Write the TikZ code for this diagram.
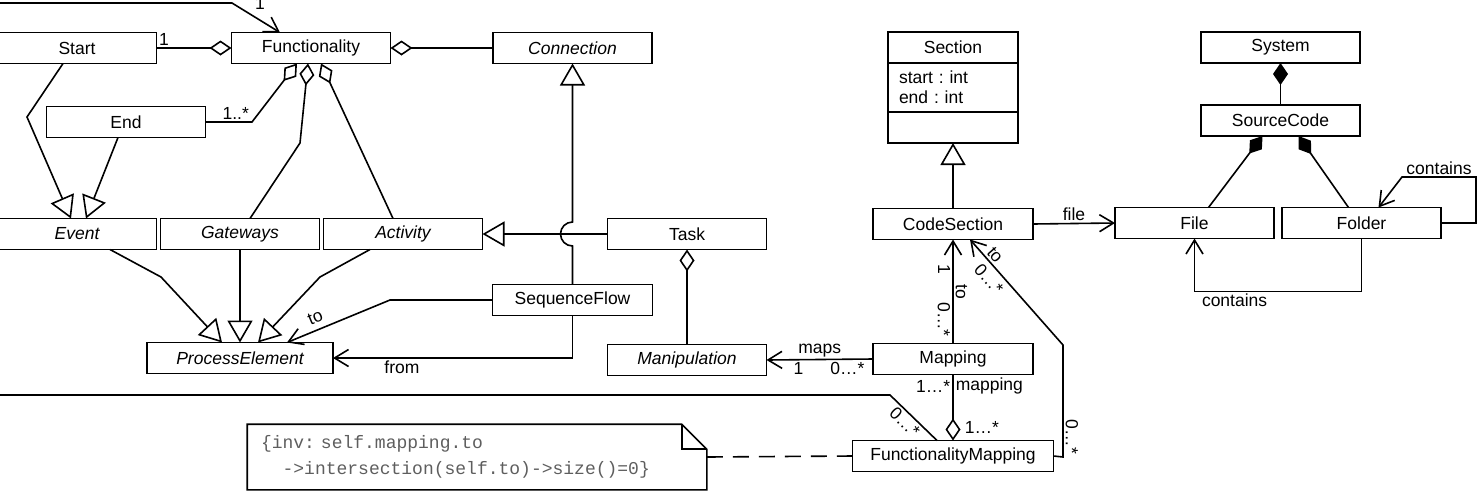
\documentclass[tikz,border=0pt]{standalone}
\usepackage{fontspec}
\setmainfont{Liberation Sans}
\newfontfamily\oclfont{Liberation Mono}
\usepackage{tikz}
\usetikzlibrary{arrows.meta,positioning,calc}
\usepackage{xcolor}
\definecolor{NoteGray}{HTML}{5E5E5E}
\newcommand{\umlsize}{\fontsize{17.5}{20}\selectfont}
\frenchspacing
\tikzset{
  classbox/.style={draw, line width=1.7pt, minimum width=159pt, minimum height=31pt,
    inner sep=2pt, outer sep=0pt, font=\umlsize, fill=white},
  abstractbox/.style={classbox, font=\umlsize\itshape},
  lbl/.style={font=\umlsize, inner sep=2pt},
  notebox/.style={minimum width=458pt, minimum height=64pt, inner xsep=13pt,
    text width=432pt, align=left, text=NoteGray,
    font=\oclfont\fontsize{18}{26}\selectfont},
  gen/.style={-{Triangle[length=22pt,width=25pt,fill=white]}},
  navarr/.style={-{Straight Barb[length=14pt,width=17pt]}},
  aggr/.style={{Diamond[length=22pt,width=15pt,fill=white]}-},
  comp/.style={{Diamond[length=22pt,width=15pt]}-},
}

\begin{document}
\begin{tikzpicture}[x=1pt, y=-1pt, line width=1.6pt]
  \useasboundingbox (0,0) rectangle (1477,491);

  % process side
  \node[classbox] (start) at (77,48) {Start};
  \node[classbox, right=75pt of start] (func) {Functionality};
  \node[abstractbox, right=102.5pt of func] (conn) {Connection};
  \node[classbox] (endn) at (126,122) {End};
  \node[abstractbox] (event) at (77,234) {Event};
  \node[abstractbox, right=4pt of event] (gate) {Gateways};
  \node[abstractbox, right=4pt of gate] (activ) {Activity};
  \node[classbox] (task) at (687,234) {Task};
  \node[classbox, minimum width=160pt] (seqflow) at (572.5,300) {SequenceFlow};
  \node[abstractbox] (manip) at (687,360) {Manipulation};
  \node[abstractbox, minimum width=186pt] (procel) at (240,358) {ProcessElement};

  % code side
  \node[classbox, minimum width=130pt] (sectitle) at (953,47.5) {Section};
  \node[classbox, minimum width=130pt, minimum height=49pt, text width=108pt,
    inner xsep=11pt, align=left, below=0pt of sectitle] (secattr) {start : int\\end : int};
  \node[classbox, minimum width=130pt, below=0pt of secattr] (secops) {};
  \node[classbox, minimum width=160pt] (codesec) at (953,224) {CodeSection};
  \node[classbox, minimum width=160pt, below=104pt of codesec] (mapping) {Mapping};
  \node[classbox, minimum width=201pt, below=66pt of mapping] (fmap) {FunctionalityMapping};
  \node[classbox] (system) at (1280.5,47.5) {System};
  \node[classbox, below=42pt of system] (srccode) {SourceCode};
  \node[classbox] (file) at (1194.5,223) {File};
  \node[classbox, right=8pt of file] (folder) {Folder};

  \node[notebox] (note) at (477,457)
    {\{inv: self.mapping.to\\\hphantom{xx}->intersection(self.to)->size()=0\}};
  \draw (note.south west) -- (note.north west) -- ([xshift=-25pt]note.north east)
    -- ([yshift=-25pt]note.north east) -- (note.south east) -- cycle;
  \draw ([xshift=-25pt]note.north east) |- ([yshift=-25pt]note.north east);

  \coordinate (lefttop) at (-2,3);
  \coordinate (leftlow) at (-2,395);

  \draw[navarr] (lefttop) -- (232,3) -- node[lbl, pos=0.3, anchor=south west, xshift=6pt]{1}
    ([xshift=-31pt]func.north);
  \draw[aggr] (func.west) -- node[lbl, pos=0.9, above]{1} (start.east);
  \draw[aggr] (func.east) -- (conn.west);
  \draw[aggr] ([xshift=-14pt]func.south) -- (252,122) -- node[lbl, pos=0.35, above]{1..*} (endn.east);
  \draw[aggr] ([xshift=-3pt]func.south) -- (300,143) -- ([xshift=10pt]gate.north);
  \draw[aggr] ([xshift=10pt]func.south) -- ([xshift=-10pt]activ.north);

  \draw[gen] ([xshift=-14pt]start.south) -- (27,117) -- ([xshift=-6pt]event.north);
  \draw[gen] ([xshift=-8pt]endn.south) -- ([xshift=9pt]event.north);
  \draw[gen] ([xshift=33pt]event.south) -- (161,277) -- ([xshift=-18pt]procel.north);
  \draw[gen] (gate.south) -- (procel.north);
  \draw[gen] ([xshift=-33pt]activ.south) -- (320,277) -- ([xshift=18pt]procel.north);

  \draw[gen] (task.west) -- (activ.east);
  \draw[gen] (seqflow.north) -- (572.5,246) arc[start angle=-90, end angle=-270, radius=12pt]
    -- (conn.south);
  \draw[navarr] (seqflow.west) -- (390,300) -- node[lbl, sloped, above=4pt, pos=0.68]{to}
    ([xshift=47pt]procel.north);
  \draw[navarr] (seqflow.south) |- node[lbl, pos=0.856, below]{from} (procel.east);
  \draw[aggr] (task.south) -- (manip.north);

  \draw[navarr] (mapping.west) -- node[lbl, above]{maps} node[lbl, pos=0.7, below]{1}
    node[lbl, pos=0.24, below]{0…*} (manip.east);
  \draw[navarr] (mapping.north) -- node[lbl, rotate=-90, anchor=north, pos=0.23]{0…*}
    node[lbl, rotate=-90, anchor=south, pos=0.5]{to}
    node[lbl, rotate=-90, anchor=north, pos=0.71]{1} (codesec.south);
  \draw[navarr] (fmap.east) -- (1063,457)
    -- node[lbl, rotate=-90, anchor=south, pos=0.18]{0…*} (1063,345)
    -- node[lbl, sloped, above, pos=0.8]{to} node[lbl, sloped, below=3pt, pos=0.7]{0…*}
    ([xshift=17pt]codesec.south);
  \draw[aggr] (fmap.north) -- node[lbl, pos=0.2, right=9pt]{1…*}
    node[lbl, pos=0.82, left]{1…*} node[lbl, pos=0.82, right]{mapping} (mapping.south);
  \draw ([xshift=-16pt]fmap.north) -- node[lbl, sloped, below, pos=0.55]{0…*} (890,395) -- (leftlow);
  \draw[dash pattern=on 16pt off 10pt] (note.east) -- (fmap.west);

  \draw[gen] (codesec.north) -- (secops.south);
  \draw[navarr] (codesec.east) -- node[lbl, above]{file} (file.west);
  \draw[comp] (system.south) -- (srccode.north);
  \draw[comp] ([xshift=-18pt]srccode.south) -- ([xshift=14pt]file.north);
  \draw[comp] ([xshift=18pt]srccode.south) -- ([xshift=-13pt]folder.north);
  \draw[navarr] (folder.east) -- (1476,223) -- (1476,177) -- node[lbl, above]{contains} (1402,177)
    -- ([xshift=17pt]folder.north);
  \draw[navarr] (folder.south) -- ++(0,53) -| node[lbl, pos=0.38, below]{contains} (file.south);
\end{tikzpicture}
\end{document}
